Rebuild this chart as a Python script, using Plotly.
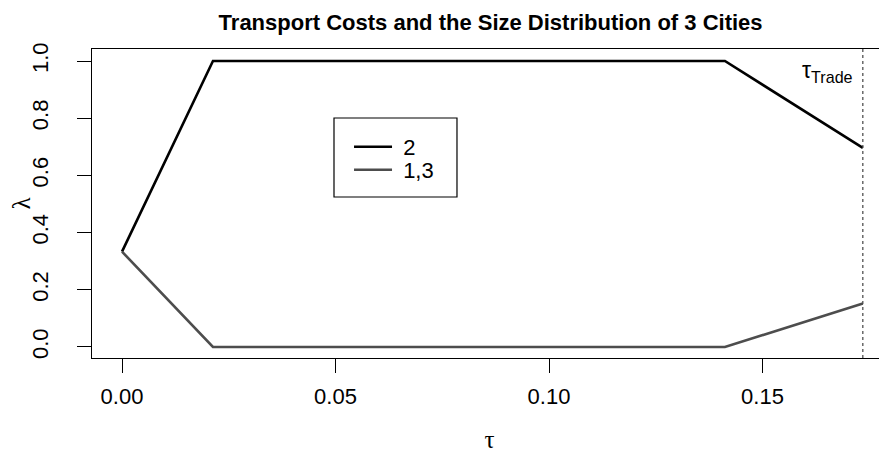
import plotly.graph_objects as go

tau = [0.0, 0.0213, 0.1412, 0.1735]
lambda_2 = [1/3, 1.0, 1.0, 0.696]
lambda_13 = [1/3, 0.0, 0.0, 0.152]
tau_trade = 0.1735
x_ticks = [0.0, 0.05, 0.10, 0.15]
x_ticklabels = ["0.00", "0.05", "0.10", "0.15"]
y_ticks = [0.0, 0.2, 0.4, 0.6, 0.8, 1.0]
y_ticklabels = ["0.0", "0.2", "0.4", "0.6", "0.8", "1.0"]
series_names = ["2", "1,3"]

FONT = "Liberation Sans, Arial, Helvetica, sans-serif"
SERIF = "Liberation Serif, DejaVu Serif, serif"

fig = go.Figure()
fig.add_trace(go.Scatter(x=tau, y=lambda_2, mode="lines", name="\u00a0" + series_names[0],
                         legend="legend",
                         line=dict(color="#000000", width=2.6)))
fig.add_trace(go.Scatter(x=tau, y=lambda_13, mode="lines", name="\u00a0" + series_names[1],
                         legend="legend2",
                         line=dict(color="#4d4d4d", width=2.6)))

fig.add_shape(type="line", xref="x", yref="paper", x0=tau_trade, x1=tau_trade,
              y0=0, y1=1, line=dict(color="#444444", width=1.2, dash="dot"))

# legend frame
fig.add_shape(type="rect", xref="paper", yref="paper", x0=0.3044, x1=0.4591,
              y0=0.521, y1=0.7767, line=dict(color="black", width=1.2),
              fillcolor="white", layer="below")

fig.add_annotation(x=tau_trade, y=0.965, xref="x", yref="y",
                   text="τ<sub>Trade</sub>", showarrow=False,
                   xanchor="right", yanchor="middle", xshift=-8,
                   font=dict(family=FONT, size=23, color="black"))

leg_common = dict(xanchor="left", yanchor="middle", borderwidth=0,
                  bgcolor="rgba(0,0,0,0)", font=dict(family=FONT, size=22),
                  tracegroupgap=0, itemwidth=38)

fig.update_layout(
    width=879, height=445,
    margin=dict(l=84, r=0, t=41, b=95, autoexpand=False),
    paper_bgcolor="white", plot_bgcolor="rgba(0,0,0,0)",
    font=dict(family=FONT, size=20, color="black"),
    title=dict(text="<b>Transport Costs and the Size Distribution of 3 Cities</b>",
               x=0.549, xanchor="center", y=0.9685, yanchor="middle",
               font=dict(family=FONT, size=22, color="black")),
    legend=dict(x=0.3233, y=0.6828, **leg_common),
    legend2=dict(x=0.3233, y=0.6084, **leg_common),
    showlegend=True,
)
fig.update_xaxes(range=[-0.00703, 0.17916], tickvals=x_ticks, ticktext=x_ticklabels,
                 automargin=False,
                 showgrid=False, zeroline=False, showline=True, mirror=True,
                 linecolor="black", linewidth=1.2, ticks="outside", ticklen=14,
                 tickcolor="black", tickfont=dict(size=22), ticklabelstandoff=4,
                 title=dict(text="τ", font=dict(family=SERIF, size=25), standoff=26))
fig.update_yaxes(range=[-0.0385, 1.042], tickvals=y_ticks, ticktext=y_ticklabels,
                 automargin=False,
                 showgrid=False, zeroline=False, showline=True, mirror=False,
                 linecolor="black", linewidth=1.2, ticks="outside", ticklen=14,
                 tickcolor="black", tickangle=-90, tickfont=dict(size=22),
                 ticklabelstandoff=20,
                 title=dict(text="λ", font=dict(family=SERIF, size=25), standoff=6))

fig.write_html("out.html")
